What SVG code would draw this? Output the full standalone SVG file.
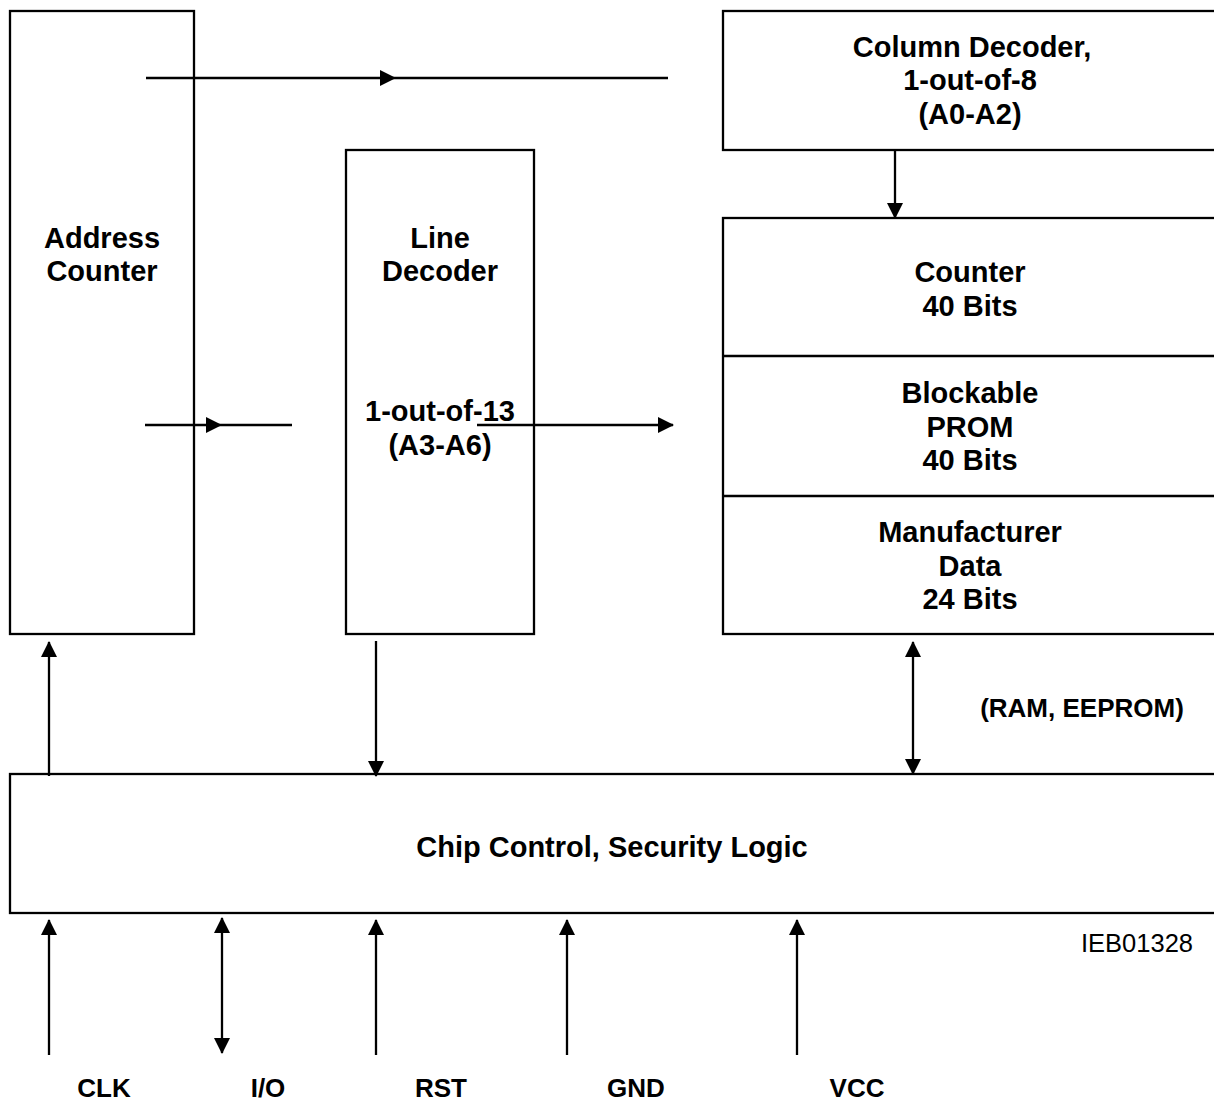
<svg xmlns="http://www.w3.org/2000/svg" width="1214" height="1102" viewBox="0 0 1214 1102">
<style>
.box{fill:none;stroke:#000;stroke-width:2.3}
.ln{fill:none;stroke:#000;stroke-width:2.3}
.t{font-family:"Liberation Sans",Arial,Helvetica,sans-serif;font-weight:bold;font-size:29px;text-anchor:middle;fill:#000}
.lbl{font-family:"Liberation Sans",Arial,Helvetica,sans-serif;font-weight:bold;font-size:26px;text-anchor:middle;fill:#000}
.id{font-family:"Liberation Sans",Arial,Helvetica,sans-serif;font-size:25.5px;text-anchor:end;fill:#000}
</style>
<defs>
<marker id="ah" markerUnits="userSpaceOnUse" markerWidth="16" markerHeight="16" viewBox="0 0 16 16" refX="15" refY="8" orient="auto-start-reverse">
<path d="M0,0 L16,8 L0,16 z" fill="#000"/>
</marker>
</defs>
<rect width="1214" height="1102" fill="#fff"/>
<g id="address-counter">
<rect class="box" x="10" y="11" width="184" height="623"/>
<text class="t" x="102" y="248">Address</text>
<text class="t" x="102" y="281">Counter</text>
</g>
<g id="line-decoder">
<rect class="box" x="346" y="150" width="188" height="484"/>
<text class="t" x="440" y="248">Line</text>
<text class="t" x="440" y="281">Decoder</text>
<text class="t" x="440" y="421">1-out-of-13</text>
<text class="t" x="440" y="455">(A3-A6)</text>
</g>
<g id="column-decoder">
<rect class="box" x="723" y="11" width="500" height="139"/>
<text class="t" x="972" y="57">Column Decoder,</text>
<text class="t" x="970" y="90">1-out-of-8</text>
<text class="t" x="970" y="124">(A0-A2)</text>
</g>
<g id="memory">
<rect class="box" x="723" y="218" width="500" height="416"/>
<line class="ln" x1="723" y1="356" x2="1220" y2="356"/>
<line class="ln" x1="723" y1="496" x2="1220" y2="496"/>
<text class="t" x="970" y="282">Counter</text>
<text class="t" x="970" y="316">40 Bits</text>
<text class="t" x="970" y="403">Blockable</text>
<text class="t" x="970" y="437">PROM</text>
<text class="t" x="970" y="470">40 Bits</text>
<text class="t" x="970" y="542">Manufacturer</text>
<text class="t" x="970" y="576">Data</text>
<text class="t" x="970" y="609">24 Bits</text>
</g>
<g id="chip-control">
<rect class="box" x="10" y="774" width="1210" height="139"/>
<text class="t" x="612" y="857">Chip Control, Security Logic</text>
</g>
<g id="connectors">
<path class="ln" d="M146,78 L395,78 L668,78" marker-mid="url(#ah)"/>
<path class="ln" d="M145,425 L221,425 L292,425" marker-mid="url(#ah)"/>
<path class="ln" d="M477,425 L673,425" marker-end="url(#ah)"/>
<path class="ln" d="M895,150 L895,218" stroke-width="1.6" marker-end="url(#ah)"/>
<path class="ln" d="M49,776 L49,642" marker-end="url(#ah)"/>
<path class="ln" d="M376,641 L376,776" marker-end="url(#ah)"/>
<path class="ln" d="M913,642 L913,774" marker-start="url(#ah)" marker-end="url(#ah)"/>
<path class="ln" d="M49,1055 L49,920" marker-end="url(#ah)"/>
<path class="ln" d="M222,1053 L222,918" marker-start="url(#ah)" marker-end="url(#ah)"/>
<path class="ln" d="M376,1055 L376,920" marker-end="url(#ah)"/>
<path class="ln" d="M567,1055 L567,920" marker-end="url(#ah)"/>
<path class="ln" d="M797,1055 L797,920" marker-end="url(#ah)"/>
</g>
<text class="lbl" x="1082" y="717">(RAM, EEPROM)</text>
<text class="id" x="1193" y="952">IEB01328</text>
<text class="lbl" x="104" y="1097">CLK</text>
<text class="lbl" x="268" y="1097">I/O</text>
<text class="lbl" x="441" y="1097">RST</text>
<text class="lbl" x="636" y="1097">GND</text>
<text class="lbl" x="857" y="1097">VCC</text>
</svg>
